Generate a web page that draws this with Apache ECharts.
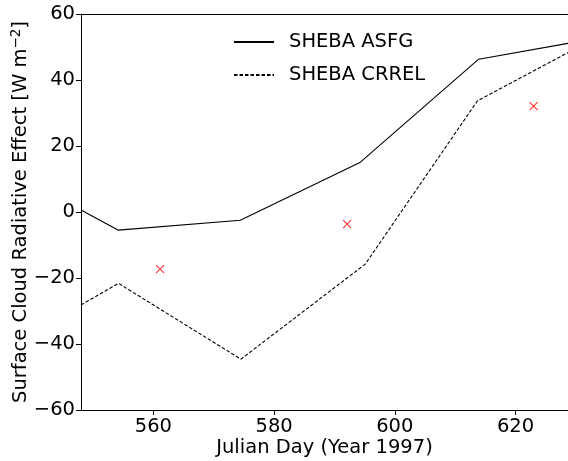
<!DOCTYPE html>
<html><head><meta charset="utf-8">
<script src="https://cdn.jsdelivr.net/npm/echarts@6/dist/echarts.min.js"></script>
<style>html,body{margin:0;padding:0;background:#fff}#c{width:568px;height:461px}</style>
</head><body><div id="c"></div>
<script>
// Data
const asfgDays   = [548, 554.2, 574.4, 594.3, 613.9, 628.7];
const asfgValues = [0.6, -5.5, -2.5, 15.1, 46.3, 51.1];
const crrelDays   = [548, 554.2, 574.5, 595.1, 613.7, 628.7];
const crrelValues = [-28.2, -21.6, -44.6, -15.8, 33.7, 48.3];
const obsDays   = [561.1, 592.1, 623.0];
const obsValues = [-17.3, -3.7, 32.1];
const xTicks = [560, 580, 600, 620];
const yTicks = [-60, -40, -20, 0, 20, 40, 60];

const FONT = 'DejaVu Sans';
const FS = 19.5;
const pair = (xs, ys) => xs.map((x, i) => [x, ys[i]]);

const chart = echarts.init(document.getElementById('c'), null, {renderer: 'canvas'});
chart.setOption({
  animation: false,
  backgroundColor: '#fff',
  textStyle: {fontFamily: FONT},
  grid: {left: 81, right: 0, top: 14, bottom: 51, containLabel: false, outerBoundsMode: 'none'},
  legend: {
    orient: 'vertical', left: 228, top: 27, itemWidth: 40, itemHeight: 14, itemGap: 13,
    itemStyle: {opacity: 0},
    textStyle: {fontFamily: FONT, fontSize: FS, color: '#000', padding: [0, 0, 0, 10]},
    data: ['SHEBA ASFG', 'SHEBA CRREL']
  },
  xAxis: [{
    type: 'value', min: 548, max: 628.7, position: 'bottom',
    name: 'Julian Day (Year 1997)', nameLocation: 'middle', nameGap: 28, nameMoveOverlap: false,
    nameTextStyle: {fontFamily: FONT, fontSize: FS, color: '#000'},
    axisLine: {show: true, onZero: false, lineStyle: {color: '#000', width: 1}},
    axisTick: {show: true, length: 5, lineStyle: {color: '#000'}, customValues: xTicks},
    axisLabel: {color: '#000', fontSize: FS, fontFamily: FONT, margin: 7, customValues: xTicks},
    splitLine: {show: false}
  }, {
    type: 'value', min: 548, max: 628.7, position: 'top',
    axisLine: {show: true, onZero: false, lineStyle: {color: '#000', width: 1}},
    axisTick: {show: false}, axisLabel: {show: false}, splitLine: {show: false}
  }],
  yAxis: {
    type: 'value', min: -60, max: 60, interval: 20,
    name: '{a|Surface Cloud Radiative Effect [W m}{s|−2}{a|]}',
    nameLocation: 'middle', nameGap: 49, nameRotate: 90, nameMoveOverlap: false,
    nameTextStyle: {
      rich: {
        a: {fontFamily: FONT, fontSize: FS, color: '#000'},
        s: {fontFamily: FONT, fontSize: 13.5, color: '#000', verticalAlign: 'top', padding: [0, 0, 9, 0]}
      }
    },
    axisLine: {show: true, onZero: false, lineStyle: {color: '#000', width: 1}},
    axisTick: {show: true, length: 5, lineStyle: {color: '#000'}},
    axisLabel: {color: '#000', fontSize: FS, fontFamily: FONT, margin: 6,
      formatter: v => v < 0 ? '\u2212' + Math.abs(v) : String(v)},
    splitLine: {show: false}
  },
  series: [{
    name: 'SHEBA ASFG', type: 'line', data: pair(asfgDays, asfgValues),
    symbol: 'none', color: '#000', lineStyle: {color: '#000', width: 1.1, type: 'solid'}
  }, {
    name: 'SHEBA CRREL', type: 'line', data: pair(crrelDays, crrelValues),
    symbol: 'none', color: '#000', lineStyle: {color: '#000', width: 1.1, type: [3.5, 2]}
  }, {
    name: 'obs', type: 'scatter', data: pair(obsDays, obsValues),
    symbol: 'path://M0,0L10,10M10,0L0,10', symbolSize: 8,
    itemStyle: {color: 'rgba(0,0,0,0)', borderColor: '#ff0000', borderWidth: 1.1}
  }]
});
</script></body></html>
